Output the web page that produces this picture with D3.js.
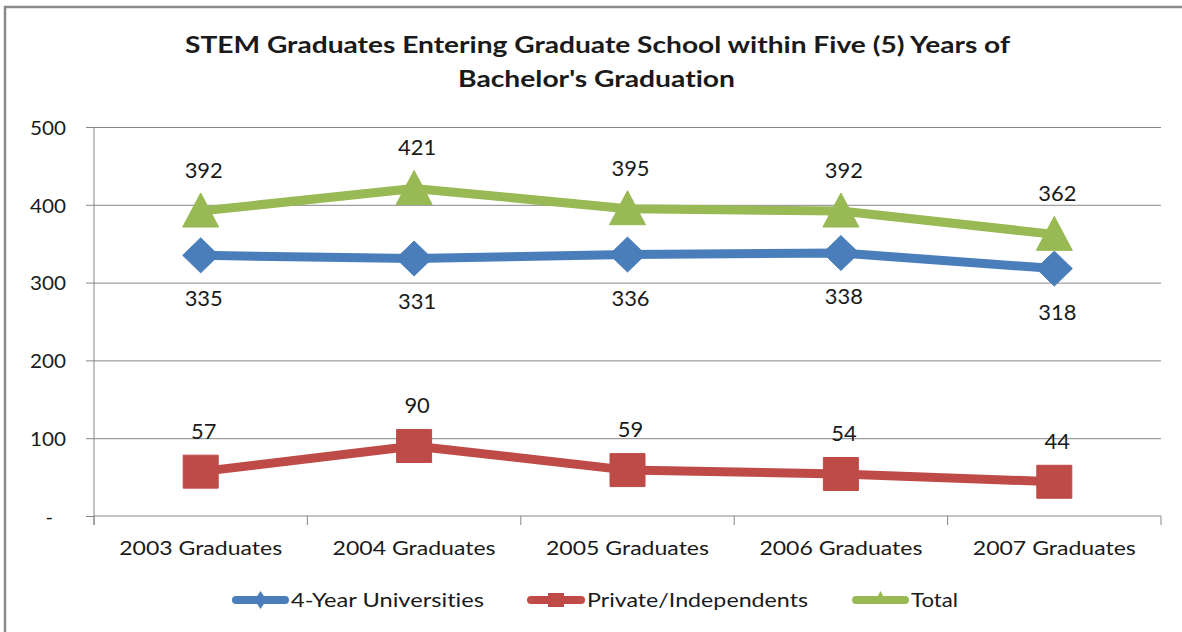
<!DOCTYPE html>
<html>
<head>
<meta charset="utf-8">
<script src="https://cdn.jsdelivr.net/npm/d3@7"></script>
<style>
  html, body { margin: 0; padding: 0; background: #fff; }
  svg { display: block; }
  text { font-family: Lato, "Open Sans", "Liberation Sans", sans-serif; fill: #1a1a1a; font-variant-ligatures: none; }
</style>
</head>
<body>
<svg id="chart" width="1182" height="632"></svg>
<script>
// ---- Data ----
const categories = ["2003 Graduates", "2004 Graduates", "2005 Graduates", "2006 Graduates", "2007 Graduates"];
const universities = [335, 331, 336, 338, 318];
const privates = [57, 90, 59, 54, 44];
const totals = [392, 421, 395, 392, 362];
const yTicks = [0, 100, 200, 300, 400, 500];
const seriesNames = ["4-Year Universities", "Private/Independents", "Total"];
const titleLines = ["STEM Graduates Entering Graduate School within Five (5) Years of", "Bachelor's Graduation"];

const series = [
  { name: seriesNames[0], values: universities, color: "#4A7EBB", shape: "diamond", labelPos: "below" },
  { name: seriesNames[1], values: privates, color: "#BE4B48", shape: "square", labelPos: "above" },
  { name: seriesNames[2], values: totals, color: "#98B954", shape: "triangle", labelPos: "above" }
];

const svg = d3.select("#chart");
const W = 1182, H = 632;
const plot = { left: 94, right: 1161, top: 127, bottom: 516 };

// Chart border
svg.append("rect").attr("x", 5).attr("y", 7).attr("width", W + 10).attr("height", H + 10)
  .attr("fill", "#fff").attr("stroke", "#8a8a8a").attr("stroke-width", 2.5);

const x = d3.scaleBand().domain(categories).range([plot.left, plot.right]).padding(0);
const y = d3.scaleLinear().domain([0, 500]).range([plot.bottom, plot.top]);
const cx = c => x(c) + x.bandwidth() / 2;

function fit(sel, w) {
  sel.attr("textLength", w).attr("lengthAdjust", "spacingAndGlyphs");
}

// Title
const titleG = svg.append("g");
titleG.append("text").attr("x", 597.5).attr("y", 53).attr("text-anchor", "middle")
  .attr("font-size", 23.5).attr("font-weight", "bold").text(titleLines[0]).call(fit, 825);
titleG.append("text").attr("x", 596.5).attr("y", 87).attr("text-anchor", "middle")
  .attr("font-size", 23.5).attr("font-weight", "bold").text(titleLines[1]).call(fit, 277);

// Gridlines
const grid = svg.append("g").attr("transform", `translate(${plot.left},0)`)
  .call(d3.axisLeft(y).tickValues(yTicks.filter(d => d > 0)).tickSize(-(plot.right - plot.left)).tickFormat(""));
grid.select(".domain").remove();
grid.selectAll("line").attr("stroke", "#868686").attr("stroke-width", 1);

// Y axis
const yAxis = svg.append("g").attr("transform", `translate(${plot.left},0)`)
  .call(d3.axisLeft(y).tickValues(yTicks).tickSize(8).tickPadding(20)
    .tickFormat(d => d === 0 ? "-" : d));
yAxis.select(".domain").attr("stroke", "#868686").attr("d", `M0,${plot.top}V${plot.bottom + 9}`);
yAxis.selectAll("line").attr("stroke", "#868686");
yAxis.selectAll("text").attr("font-size", 20).attr("fill", "#1a1a1a").attr("dy", "0.36em")
  .attr("dx", d => d === 0 ? -13 : 0)
  .each(function(d) { if (d !== 0) d3.select(this).call(fit, 36); });

// X axis
const xAxis = svg.append("g").attr("transform", `translate(0,${plot.bottom})`);
xAxis.append("line").attr("x1", plot.left).attr("x2", plot.right).attr("y1", 0).attr("y2", 0)
  .attr("stroke", "#868686");
const tickXs = categories.map(c => x(c)).concat([x(categories[categories.length - 1]) + x.bandwidth()]);
xAxis.selectAll("line.tick").data(tickXs).join("line").attr("class", "tick")
  .attr("x1", d => d).attr("x2", d => d).attr("y1", 0).attr("y2", 9).attr("stroke", "#868686");
xAxis.selectAll("text.lbl").data(categories).join("text").attr("class", "lbl")
  .attr("x", d => cx(d)).attr("y", 39).attr("text-anchor", "middle").attr("font-size", 19.5)
  .text(d => d).call(fit, 163);

// Marker shape paths (relative to center)
function shapePath(shape, s) {
  if (shape === "diamond") {
    const hw = 18 * s, hh = 17.5 * s;
    return `M0,${-hh}L${hw},0L0,${hh}L${-hw},0Z`;
  } else if (shape === "square") {
    const hw = 17.5 * s, hh = 16.5 * s;
    return `M${-hw},${-hh}H${hw}V${hh}H${-hw}Z`;
  } else {
    const hw = 18 * s;
    return `M0,${-18 * s}L${hw},${16 * s}L${-hw},${16 * s}Z`;
  }
}

const line = d3.line().x((d, i) => cx(categories[i])).y(d => y(d));

const seriesG = svg.append("g");
series.forEach(s => {
  const g = seriesG.append("g");
  g.append("path").datum(s.values).attr("d", line).attr("fill", "none")
    .attr("stroke", s.color).attr("stroke-width", 9).attr("stroke-linejoin", "round");
  g.selectAll("path.m").data(s.values).join("path").attr("class", "m")
    .attr("transform", (d, i) => `translate(${cx(categories[i])},${y(d)})`)
    .attr("d", shapePath(s.shape, 1)).attr("fill", s.color)
    .attr("stroke", s.color).attr("stroke-width", 1).attr("stroke-linejoin", "round");
});

// Data labels
series.forEach(s => {
  seriesG.append("g").selectAll("text").data(s.values).join("text")
    .attr("x", (d, i) => cx(categories[i]) + 3)
    .attr("y", d => s.labelPos === "above" ? y(d) - 33 : y(d) + 51)
    .attr("text-anchor", "middle").attr("font-size", 20.5).text(d => d)
    .each(function(d) { d3.select(this).call(fit, String(d).length * 12.7); });
});

// Legend
const legendItems = [
  { s: series[0], x0: 232, tx: 291, tw: 193 },
  { s: series[1], x0: 527, tx: 587, tw: 221 },
  { s: series[2], x0: 852, tx: 911, tw: 47 }
];
const legend = svg.append("g").attr("transform", "translate(0,600)");
legendItems.forEach(it => {
  const g = legend.append("g");
  g.append("line").attr("x1", it.x0 + 4).attr("x2", it.tx - 6).attr("y1", 0).attr("y2", 0)
    .attr("stroke", it.s.color).attr("stroke-width", 8).attr("stroke-linecap", "round");
  const mid = (it.x0 + it.tx - 2) / 2;
  let p;
  if (it.s.shape === "diamond") p = `M0,-9L6,0L0,9L-6,0Z`;
  else if (it.s.shape === "square") p = `M-8,-7H8V7H-8Z`;
  else p = `M0,-9L7,4L-7,4Z`;
  g.append("path").attr("transform", `translate(${mid},0)`).attr("d", p).attr("fill", it.s.color);
  g.append("text").attr("x", it.tx).attr("y", 7).attr("font-size", 19).text(it.s.name).call(fit, it.tw);
});
</script>
</body>
</html>
